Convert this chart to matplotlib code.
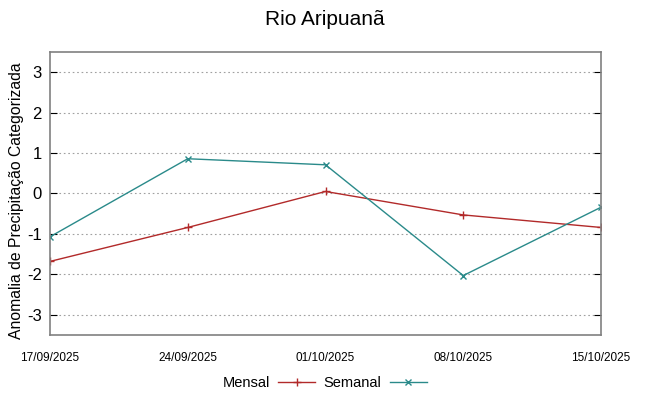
import matplotlib
matplotlib.use("Agg")
import matplotlib.pyplot as plt

plt.rcParams['font.family'] = ['Liberation Sans', 'DejaVu Sans']

dates = ["17/09/2025", "24/09/2025", "01/10/2025", "08/10/2025", "15/10/2025"]
mensal = [-1.68, -0.84, 0.05, -0.53, -0.84]
semanal = [-1.07, 0.86, 0.71, -2.03, -0.34]
yticks = [-3, -2, -1, 0, 1, 2, 3]

fig = plt.figure(figsize=(6.49, 3.96), dpi=100)
ax = fig.add_axes([50/649, 1 - 335/396, (601-50)/649, (335-52)/396])

x = list(range(len(dates)))
ax.plot(x, mensal, color='#b22a2a', lw=1.0, marker='+', ms=6, mew=1.0, label='Mensal')
ax.plot(x, semanal, color='#2a8a8a', lw=1.0, marker='x', ms=5, mew=1.0, label='Semanal')

ax.set_xlim(0, len(dates) - 1)
ax.set_ylim(-3.5, 3.5)
ax.set_yticks(yticks)
ax.set_yticklabels([str(v) for v in yticks], fontsize=12)
ax.set_xticks(x)
ax.set_xticklabels(dates, fontsize=8.5)
ax.tick_params(axis='x', length=0, pad=12)
ax.tick_params(axis='y', direction='in', length=5, right=True, color='black', pad=6)
ax.grid(axis='y', color='#a0a0a0', linestyle=(0, (1.5, 2.5)), lw=0.8)
for s in ax.spines.values():
    s.set_color('#808080')
    s.set_linewidth(1.2)

ax.set_ylabel('Anomalia de Precipitação Categorizada', fontsize=11.3)
ax.yaxis.set_label_coords(-0.047, 0.473)
fig.suptitle('Rio Aripuanã', fontsize=15, y=0.975)

fig.legend(loc='lower center', bbox_to_anchor=(0.5, -0.018), ncol=2, frameon=False,
           markerfirst=False, fontsize=10.5, handlelength=2.5, columnspacing=0.6, handletextpad=0.6)

fig.savefig('out.png', dpi=100)
